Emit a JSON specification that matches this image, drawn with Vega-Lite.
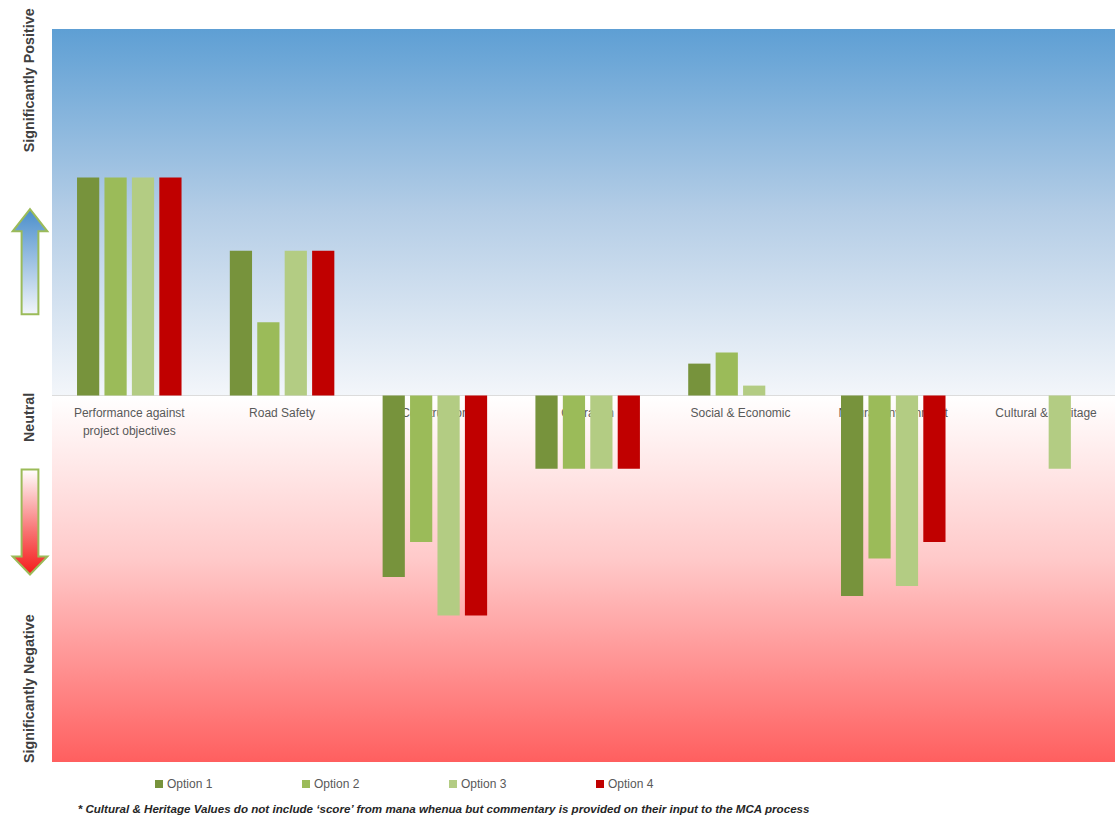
{
  "$schema": "https://vega.github.io/schema/vega-lite/v6.json",
  "width": 1063,
  "height": 733,
  "autosize": {"type": "none"},
  "padding": {"left": 52, "top": 29, "right": 0, "bottom": 54},
  "background": "white",
  "config": {"view": {"stroke": null}, "font": "Liberation Sans"},
  "title": {
    "text": "* Cultural & Heritage Values do not include ‘score’ from mana whenua but commentary is provided on their input to the MCA process",
    "orient": "bottom",
    "anchor": "start",
    "offset": 14,
    "dx": 69,
    "fontSize": 11.6,
    "fontStyle": "italic",
    "fontWeight": "bold",
    "color": "#262626",
    "font": "Liberation Sans"
  },
  "datasets": {
    "scores": [
      {"category": "Performance against\nproject objectives", "option": "Option 1", "score": 5.95},
      {"category": "Performance against\nproject objectives", "option": "Option 2", "score": 5.95},
      {"category": "Performance against\nproject objectives", "option": "Option 3", "score": 5.95},
      {"category": "Performance against\nproject objectives", "option": "Option 4", "score": 5.95},
      {"category": "Road Safety", "option": "Option 1", "score": 3.95},
      {"category": "Road Safety", "option": "Option 2", "score": 2.0},
      {"category": "Road Safety", "option": "Option 3", "score": 3.95},
      {"category": "Road Safety", "option": "Option 4", "score": 3.95},
      {"category": "Construction", "option": "Option 1", "score": -4.95},
      {"category": "Construction", "option": "Option 2", "score": -4.0},
      {"category": "Construction", "option": "Option 3", "score": -6.0},
      {"category": "Construction", "option": "Option 4", "score": -6.0},
      {"category": "Operation", "option": "Option 1", "score": -2.0},
      {"category": "Operation", "option": "Option 2", "score": -2.0},
      {"category": "Operation", "option": "Option 3", "score": -2.0},
      {"category": "Operation", "option": "Option 4", "score": -2.0},
      {"category": "Social & Economic", "option": "Option 1", "score": 0.87},
      {"category": "Social & Economic", "option": "Option 2", "score": 1.17},
      {"category": "Social & Economic", "option": "Option 3", "score": 0.27},
      {"category": "Social & Economic", "option": "Option 4", "score": 0},
      {"category": "Natural Environment", "option": "Option 1", "score": -5.47},
      {"category": "Natural Environment", "option": "Option 2", "score": -4.45},
      {"category": "Natural Environment", "option": "Option 3", "score": -5.2},
      {"category": "Natural Environment", "option": "Option 4", "score": -4.0},
      {"category": "Cultural & Heritage", "option": "Option 1", "score": 0},
      {"category": "Cultural & Heritage", "option": "Option 2", "score": 0},
      {"category": "Cultural & Heritage", "option": "Option 3", "score": -2.0},
      {"category": "Cultural & Heritage", "option": "Option 4", "score": 0}
    ],
    "categories": [
      {"category": "Performance against\nproject objectives"},
      {"category": "Road Safety"},
      {"category": "Construction"},
      {"category": "Operation"},
      {"category": "Social & Economic"},
      {"category": "Natural Environment"},
      {"category": "Cultural & Heritage"}
    ],
    "sides": [
      {"pos": 8.6, "label": "Significantly Positive"},
      {"pos": -0.6, "label": "Neutral"},
      {"pos": -8.0, "label": "Significantly Negative"}
    ],
    "bands": [{"top": 10, "bottom": 0, "zero": 0}],
    "bandsNeg": [{"top": 0, "bottom": -10}],
    "arrowUp": [{"pos": 3.65}],
    "arrowDown": [{"pos": -3.45}]
  },
  "layer": [
    {
      "data": {"name": "bands"},
      "mark": {
        "type": "rect",
        "color": {
          "gradient": "linear", "x1": 0, "y1": 0, "x2": 0, "y2": 1,
          "stops": [
            {"offset": 0, "color": "#5E9FD4"},
            {"offset": 0.5, "color": "#B4CDE6"},
            {"offset": 1, "color": "#F3F6FA"}
          ]
        }
      },
      "encoding": {
        "y": {"field": "top", "type": "quantitative", "scale": {"domain": [-10, 10], "nice": false}, "axis": null},
        "y2": {"field": "bottom"}
      }
    },
    {
      "data": {"name": "bandsNeg"},
      "mark": {
        "type": "rect",
        "color": {
          "gradient": "linear", "x1": 0, "y1": 0, "x2": 0, "y2": 1,
          "stops": [
            {"offset": 0, "color": "#FFFFFF"},
            {"offset": 0.45, "color": "#FFC9C9"},
            {"offset": 1, "color": "#FF5F5F"}
          ]
        }
      },
      "encoding": {
        "y": {"field": "top", "type": "quantitative", "axis": null},
        "y2": {"field": "bottom"}
      }
    },
    {
      "data": {"name": "bands"},
      "mark": {"type": "rule", "color": "#DCDCDC", "strokeWidth": 1},
      "encoding": {"y": {"field": "zero", "type": "quantitative", "axis": null}}
    },
    {
      "data": {"name": "sides"},
      "mark": {"type": "text", "angle": 270, "align": "center", "baseline": "middle", "fontSize": 14.3, "fontWeight": "bold", "color": "#404040", "x": -22},
      "encoding": {
        "y": {"field": "pos", "type": "quantitative", "axis": null},
        "text": {"field": "label", "type": "nominal"}
      }
    },
    {
      "data": {"name": "arrowUp"},
      "mark": {
        "type": "point", "filled": true, "x": -22, "size": 11025,
        "shape": "M0,-1 L0.33,-0.58 L0.16,-0.58 L0.16,1 L-0.16,1 L-0.16,-0.58 L-0.33,-0.58 Z",
        "opacity": 1,
        "stroke": "#9BBB59", "strokeWidth": 2,
        "fill": {
          "gradient": "linear", "x1": 0, "y1": 0, "x2": 0, "y2": 1,
          "stops": [{"offset": 0, "color": "#4A8ECB"}, {"offset": 1, "color": "#F2F5FA"}]
        }
      },
      "encoding": {"y": {"field": "pos", "type": "quantitative", "axis": null}}
    },
    {
      "data": {"name": "arrowDown"},
      "mark": {
        "type": "point", "filled": true, "x": -22, "size": 11025,
        "shape": "M0,1 L0.33,0.66 L0.16,0.66 L0.16,-1 L-0.16,-1 L-0.16,0.66 L-0.33,0.66 Z",
        "opacity": 1,
        "stroke": "#9BBB59", "strokeWidth": 2,
        "fill": {
          "gradient": "linear", "x1": 0, "y1": 0, "x2": 0, "y2": 1,
          "stops": [{"offset": 0, "color": "#FFFFFF"}, {"offset": 0.6, "color": "#F87070"}, {"offset": 1, "color": "#F51A1A"}]
        }
      },
      "encoding": {"y": {"field": "pos", "type": "quantitative", "axis": null}}
    },
    {
      "data": {"name": "categories"},
      "mark": {"type": "text", "baseline": "top", "align": "center", "dy": 12, "fontSize": 12, "color": "#595959", "lineBreak": "\n", "lineHeight": 18},
      "encoding": {
        "x": {"field": "category", "type": "nominal", "sort": null, "axis": null},
        "y": {"datum": 0, "type": "quantitative", "axis": null},
        "text": {"field": "category", "type": "nominal"}
      }
    },
    {
      "data": {"name": "scores"},
      "mark": {"type": "bar"},
      "encoding": {
        "x": {
          "field": "category", "type": "nominal", "sort": null,
          "scale": {"paddingInner": 0.316, "paddingOuter": 0.1365, "align": 0.6},
          "axis": null
        },
        "xOffset": {"field": "option", "type": "nominal", "scale": {"paddingInner": 0.19, "paddingOuter": 0}},
        "y": {"field": "score", "type": "quantitative", "axis": null},
        "color": {
          "field": "option", "type": "nominal",
          "scale": {"domain": ["Option 1", "Option 2", "Option 3", "Option 4"], "range": ["#77933C", "#9BBB59", "#B3CC83", "#C00000"]},
          "legend": {
            "title": null,
            "orient": "none",
            "legendX": 101,
            "legendY": 749,
            "direction": "horizontal",
            "columns": 4,
            "gridAlign": "all",
            "columnPadding": 87,
            "symbolType": "square",
            "symbolSize": 64,
            "symbolStrokeWidth": 0,
            "symbolOffset": 0,
            "labelOffset": 2,
            "labelFontSize": 12,
            "labelColor": "#595959"
          }
        }
      }
    }
  ]
}
